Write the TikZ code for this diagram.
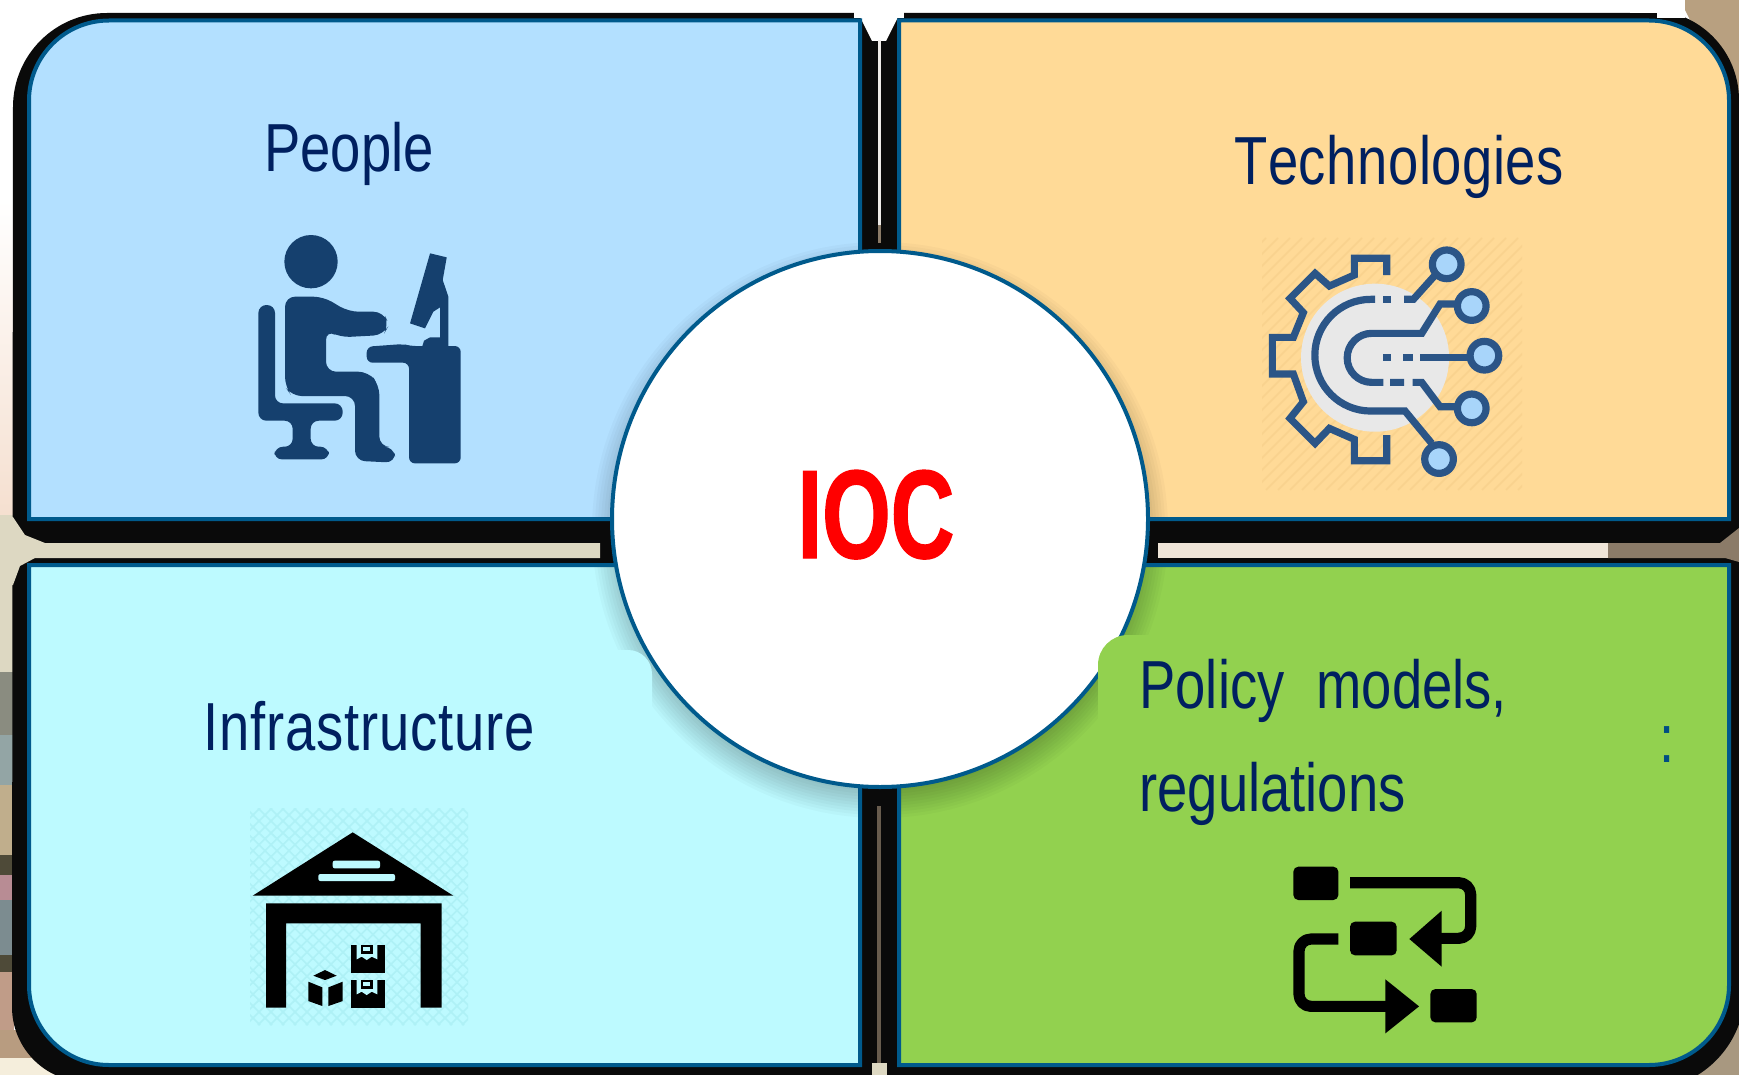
\documentclass[tikz,border=0pt]{standalone}
\usepackage{fontspec}
\setmainfont{Liberation Sans}
\newfontfamily\narrowfont[FakeStretch=0.8,Kerning=Off]{Liberation Sans}
\newfontfamily\ioc[FakeStretch=0.7,FakeBold=1]{Liberation Sans}
\definecolor{navy}{HTML}{002060}
\definecolor{edgeblue}{HTML}{005A8C}
\definecolor{peoplefill}{HTML}{B3E0FF}
\definecolor{techfill}{HTML}{FFDA97}
\definecolor{infrafill}{HTML}{BDFAFF}
\definecolor{policyfill}{HTML}{92D14F}
\definecolor{personblue}{HTML}{15406E}
\definecolor{gearblue}{HTML}{2B5587}
\definecolor{nodeblue}{HTML}{A8D5FA}
\definecolor{gaptan}{HTML}{DDD8C2}
\definecolor{blackband}{HTML}{0A0A0A}
\definecolor{leftpink}{HTML}{F5DFCF}
\definecolor{hatchtech}{HTML}{F8D08C}
\definecolor{hatchinfra}{HTML}{A8EEF2}
\definecolor{stripa}{HTML}{8A8C80}\definecolor{stripb}{HTML}{93A5A5}\definecolor{stripc}{HTML}{C0AE8C}
\definecolor{stripd}{HTML}{4E4A38}\definecolor{stripe}{HTML}{B88C94}\definecolor{stripf}{HTML}{7C8C90}
\definecolor{stripg}{HTML}{C09C88}\definecolor{striph}{HTML}{B89C80}\definecolor{stripi}{HTML}{F5EEDC}
\definecolor{cornertr}{HTML}{B8A080}\definecolor{cornerbr}{HTML}{A89880}
\definecolor{gapcream}{HTML}{EFE5D8}\definecolor{gapbrown}{HTML}{8B7B68}
\tikzset{
  panel/.style={draw=edgeblue,line width=2pt},
  label/.style={font=\narrowfont\fontsize{34}{40}\selectfont,text=navy,anchor=base west,inner sep=0pt},
  gearline/.style={draw=gearblue,line width=3.6pt,line cap=butt,line join=miter},
  gearnode/.style={draw=gearblue,fill=nodeblue,line width=3.6pt},
  flowline/.style={draw=black,line width=5.6pt,line join=round}
}
\begin{document}
\begin{tikzpicture}[x=0.5pt,y=-0.5pt]
\useasboundingbox (0,0) rectangle (1739,1075);
% background
\fill[white] (0,0) rectangle (1739,1075);
\shade[top color=white,bottom color=leftpink] (0,200) rectangle (14,520);
\fill[gaptan] (0,515) rectangle (14,672);
\fill[stripa] (0,672) rectangle (14,735);
\fill[stripb] (0,735) rectangle (14,785);
\fill[stripc] (0,785) rectangle (14,855);
\fill[stripd] (0,855) rectangle (14,875);
\fill[stripe] (0,875) rectangle (14,900);
\fill[stripf] (0,900) rectangle (14,955);
\fill[stripd] (0,955) rectangle (14,972);
\fill[stripg] (0,972) rectangle (14,1030);
\fill[striph] (0,1030) rectangle (70,1058);
\fill[stripi] (0,1058) rectangle (70,1075);
\fill[cornertr] (1680,0) -- (1739,0) -- (1739,100) -- (1690,20) -- cycle;
\fill[cornerbr] (1739,1010) -- (1739,1075) -- (1685,1075) -- cycle;
% black backing
\fill[blackband] (13,107) arc (180:270:94) -- (1649,13) -- (1649,10) arc (270:360:90) -- (1745,990) arc (0:90:100) -- (87,1082) arc (90:180:75) -- cycle;
\fill[white] (854,0) rectangle (904,18);
\fill[white] (860,17) -- (872,41) -- (886,41) -- (898,17) -- cycle;
\fill[white] (1630,0) rectangle (1685,13);
\fill[white] (1657,0) rectangle (1685,18);
% gaps between the panels
\fill[gaptan] (0,515) -- (13,517) -- (25,535) -- (45,543) -- (600,543) -- (600,558) -- (35,558) -- (20,566) -- (13,585) -- (0,585) -- cycle;
\fill[gapcream] (1158,543) rectangle (1608,558);
\fill[gapbrown] (1608,543) -- (1720,543) -- (1739,528) -- (1739,562) -- (1725,558) -- (1608,558) -- cycle;
\fill[white!85!gapbrown] (878,40) rectangle (881,225);
\fill[gapbrown] (878,225) rectangle (881,243);
\fill[gapbrown!75!black] (877,806) rectangle (881,1064);
\fill[gaptan] (872,1063) rectangle (887,1075);
% panels
\draw[panel,fill=peoplefill] (860,20.5) -- (860,519) -- (29,519) -- (29,100.5) arc (180:270:80) -- cycle;
\draw[panel,fill=techfill] (899,20.5) -- (899,519) -- (1729,519) -- (1729,100.5) arc (0:-90:80) -- cycle;
\draw[panel,fill=infrafill] (860,565) -- (860,1065) -- (109,1065) arc (90:180:80) -- (29,565) -- cycle;
\draw[panel,fill=policyfill] (899,565) -- (899,1065) -- (1649,1065) arc (90:0:80) -- (1729,565) -- cycle;
% circle shadow
\begin{scope}
\clip (31,22) rectangle (858,517) (901,22) rectangle (1727,517) (31,567) rectangle (858,1063) (901,567) rectangle (1727,1063);
\foreach \r in {288,285,...,261} {\fill[black,opacity=.022] (880,530) circle (\r);}
\end{scope}
% text backdrop
\fill[infrafill,rounded corners=12pt] (80,650) rectangle (652,800);
% hatched icon backgrounds
\begin{scope}
\clip (1262,238) rectangle (1522,490);
\foreach \i in {-20,-8,...,510} {\draw[hatchtech!80!techfill,line width=.8pt] (1262+\i-252,490) -- (1262+\i,238);}
\end{scope}
\begin{scope}
\clip (250,808) rectangle (468,1025);
\foreach \i in {-220,-208,...,220} {
  \draw[hatchinfra!70!infrafill,line width=.8pt] (250+\i,808) -- (468+\i,1025);
  \draw[hatchinfra!70!infrafill,line width=.8pt] (468+\i,808) -- (250+\i,1025);}
\end{scope}
% centre circle
\node[circle,draw=edgeblue,fill=white,line width=2pt,minimum size=268pt,inner sep=0pt] (hub) at (880,519) {};
\node[font=\ioc\bfseries\fontsize{63}{70}\selectfont,text=red,anchor=base,inner sep=0pt] (ioclabel) at (876,558) {IOC};
% backdrop overlapping the circle
\fill[policyfill,rounded corners=15pt] (1098,635) rectangle (1660,830);
% labels
\node[label] (people) at (264,172) {People};
\node[label] (tech) at (1234,185) {\addfontfeature{LetterSpace=0.8}Technologies};
\node[label] (infra) at (203,750) {\addfontfeature{LetterSpace=1.25}Infrastructure};
\node[label] (policya) at (1139,708) {Policy\hspace{16pt}models,};
\node[label] (policyb) at (1139,811) {regulations};
\node[label,text=edgeblue!80!navy] (colon) at (1659,762) {:};
% person icon
\begin{scope}[shift={(220,220)},x=0.1667pt,y=-0.1667pt]
\fill[personblue] (273,125) circle (80);
\fill[personblue,rounded corners=5pt] (195,230) -- (310,230) -- (385,275) -- (490,275) -- (507,315) -- (490,345) -- (360,352) -- (318,330) -- (318,455) -- (445,455) -- (478,495) -- (478,680) -- (522,680) -- (527,728) -- (405,722) -- (405,528) -- (215,528) -- (195,500) -- cycle;
\fill[personblue,rounded corners=4pt] (115,255) -- (165,255) -- (165,550) -- (368,550) -- (368,602) -- (272,602) -- (272,680) -- (325,680) -- (328,718) -- (162,718) -- (165,680) -- (218,680) -- (218,602) -- (115,602) -- cycle;
\fill[personblue,rounded corners=3pt] (440,380) -- (550,372) -- (570,378) -- (722,378) -- (722,730) -- (567,730) -- (567,428) -- (440,428) -- cycle;
\fill[personblue] (630,100) -- (680,112) -- (668,180) -- (685,230) -- (685,380) -- (660,380) -- (660,262) -- (640,275) -- (615,325) -- (570,310) -- cycle;
\fill[personblue] (607,378) -- (612,362) -- (630,352) -- (662,352) -- (662,380) -- cycle;
\end{scope}
% technology icon
\begin{scope}[shift={(1240,230)},x=0.1667pt,y=-0.1667pt]
\fill[black!9] (405,383) circle (222);
\draw[gearline] (440,135) -- (440,85) -- (343,85) -- (343,135) -- (268,168) -- (225,130) -- (150,205) -- (190,248) -- (160,322) -- (97,322) -- (97,432) -- (160,432) -- (190,515) -- (150,565) -- (225,640) -- (268,595) -- (343,628) -- (343,692) -- (440,692) -- (440,615);
\draw[gearline] (405,208) -- (392,208) arc (270:90:167.5) -- (495,543) -- (575,640);
\draw[gearline] (650,222) -- (600,222) -- (545,310) -- (395,310) arc (270:90:73.5) -- (430,457);
\draw[gearline] (430,208) -- (452,208);
\draw[gearline] (492,208) -- (520,208) -- (590,130);
\draw[gearline] (430,382) -- (452,382) (490,382) -- (518,382) (540,382) -- (690,382);
\draw[gearline] (450,457) -- (492,457) (518,457) -- (545,457) -- (600,530) -- (650,530);
\draw[gearnode] (620,103) circle (43);
\draw[gearnode] (695,228) circle (43);
\draw[gearnode] (733,377) circle (43);
\draw[gearnode] (695,535) circle (43);
\draw[gearnode] (597,687) circle (43);
\end{scope}
% warehouse icon
\begin{scope}[shift={(240,800)},x=0.1667pt,y=-0.1667pt]
\fill[black] (338,97) -- (640,287) -- (38,287) -- cycle;
\fill[infrafill,rounded corners=1pt] (278,182) rectangle (420,205);
\fill[infrafill,rounded corners=1pt] (235,222) rectangle (465,243);
\fill[black] (78,310) -- (605,310) -- (605,623) -- (542,623) -- (542,370) -- (138,370) -- (138,623) -- (78,623) -- cycle;
\foreach \b in {0,105} {
  \fill[black] (332,435+\b) rectangle (436,518+\b);
  \fill[infrafill] (350,435+\b) -- (412,435+\b) -- (412,478+\b) -- (395,470+\b) -- (380,480+\b) -- (365,470+\b) -- (350,478+\b) -- cycle;
  \fill[black] (362,435+\b) rectangle (398,462+\b);
  \fill[infrafill] (370,440+\b) rectangle (390,452+\b);
}
\fill[black] (255,510) -- (290,527) -- (255,540) -- (220,527) -- cycle;
\fill[black] (205,545) -- (247,562) -- (247,618) -- (205,603) -- cycle;
\fill[black] (265,562) -- (308,545) -- (308,603) -- (265,618) -- cycle;
\end{scope}
% flow icon
\begin{scope}[shift={(1270,850)},x=0.1667pt,y=-0.1667pt]
\fill[black,rounded corners=2.5pt] (70,50) rectangle (205,150);
\fill[black,rounded corners=2.5pt] (240,215) rectangle (380,316);
\fill[black,rounded corners=2.5pt] (481,417) rectangle (620,517);
\draw[flowline,rounded corners=6pt] (240,98) -- (602,98) -- (602,265) -- (500,265);
\fill[black] (515,182) -- (418,267) -- (515,350) -- cycle;
\draw[flowline,rounded corners=6pt] (205,267) -- (87,267) -- (87,469) -- (360,469);
\fill[black] (346,388) -- (447,469) -- (346,550) -- cycle;
\end{scope}
\end{tikzpicture}
\end{document}
